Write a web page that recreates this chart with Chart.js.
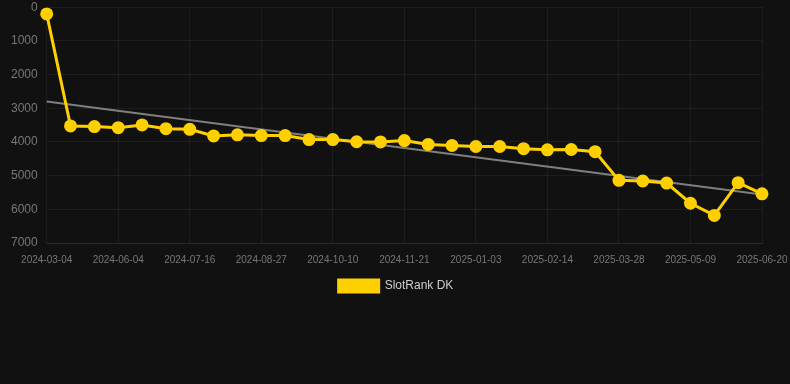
<!DOCTYPE html>
<html>
<head>
<meta charset="utf-8">
<script src="https://cdn.jsdelivr.net/npm/chart.js@4/dist/chart.umd.min.js"></script>
<style>
html,body{margin:0;padding:0;background:#111111;overflow:hidden;}
#wrap{width:790px;height:315px;position:relative;margin-top:-9px;}
</style>
</head>
<body>
<div id="wrap"><canvas id="c"></canvas></div>
<script>
const categories = [
  "2024-03-04","2024-05-07","2024-05-21","2024-06-04","2024-06-18","2024-07-02","2024-07-16",
  "2024-07-30","2024-08-13","2024-08-27","2024-09-11","2024-09-25","2024-10-10","2024-10-24",
  "2024-11-07","2024-11-21","2024-12-05","2024-12-19","2025-01-03","2025-01-17","2025-01-31",
  "2025-02-14","2025-02-28","2025-03-14","2025-03-28","2025-04-11","2025-04-25","2025-05-09",
  "2025-05-23","2025-06-06","2025-06-20"
];
const slotRankDK = [
  200,3525,3545,3575,3495,3605,3625,3820,3790,3810,3810,3930,3930,3995,4000,3960,
  4075,4105,4135,4135,4200,4235,4225,4290,5140,5160,5220,5820,6180,5210,5540
];
const trendStart = 2800;
const trendEnd = 5560;
const yTicks = [0,1000,2000,3000,4000,5000,6000,7000];

const trend = categories.map((_, i) => i === 0 ? trendStart : (i === categories.length - 1 ? trendEnd : null));

new Chart(document.getElementById('c'), {
  type: 'line',
  data: {
    labels: categories,
    datasets: [
      {
        label: 'SlotRank DK',
        data: slotRankDK,
        borderColor: '#FFD000',
        backgroundColor: '#FFD000',
        borderWidth: 3,
        pointRadius: 5,
        pointHoverRadius: 6,
        pointBackgroundColor: '#FFD000',
        pointBorderColor: '#FFD000',
        tension: 0,
        order: 1
      },
      {
        label: 'trend',
        data: trend,
        spanGaps: true,
        borderColor: 'rgba(140,140,140,0.9)',
        borderWidth: 2,
        pointRadius: 0,
        fill: false,
        order: 2
      }
    ]
  },
  options: {
    responsive: true,
    maintainAspectRatio: false,
    animation: false,
    layout: { padding: { left: 2, right: 0, top: 0, bottom: 4 } },
    plugins: {
      legend: {
        position: 'bottom',
        labels: {
          color: '#cccccc',
          font: { family: 'Liberation Sans, Arial, sans-serif', size: 12 },
          boxWidth: 40,
          boxHeight: 12,
          padding: 3,
          filter: (item) => item.text !== 'trend'
        }
      },
      tooltip: { enabled: false }
    },
    scales: {
      x: {
        grid: { color: 'rgba(255,255,255,0.05)', drawTicks: false },
        border: { color: 'rgba(255,255,255,0.06)' },
        afterFit: (s) => { s.paddingRight = 28; },
        ticks: {
          color: '#777777',
          font: { family: 'Liberation Sans, Arial, sans-serif', size: 10 },
          autoSkip: false,
          maxRotation: 0,
          padding: 11,
          callback: function(v, i) { return i % 3 === 0 ? categories[i] : null; }
        }
      },
      y: {
        reverse: true,
        min: yTicks[0],
        max: yTicks[yTicks.length - 1],
        afterBuildTicks: (axis) => { axis.ticks = yTicks.map(v => ({ value: v })); },
        grid: { color: 'rgba(255,255,255,0.05)', drawTicks: false },
        border: { display: false },
        ticks: {
          color: '#777777',
          font: { family: 'Liberation Sans, Arial, sans-serif', size: 12 },
          padding: 9,
          callback: (v) => String(v)
        }
      }
    }
  }
});
</script>
</body>
</html>
